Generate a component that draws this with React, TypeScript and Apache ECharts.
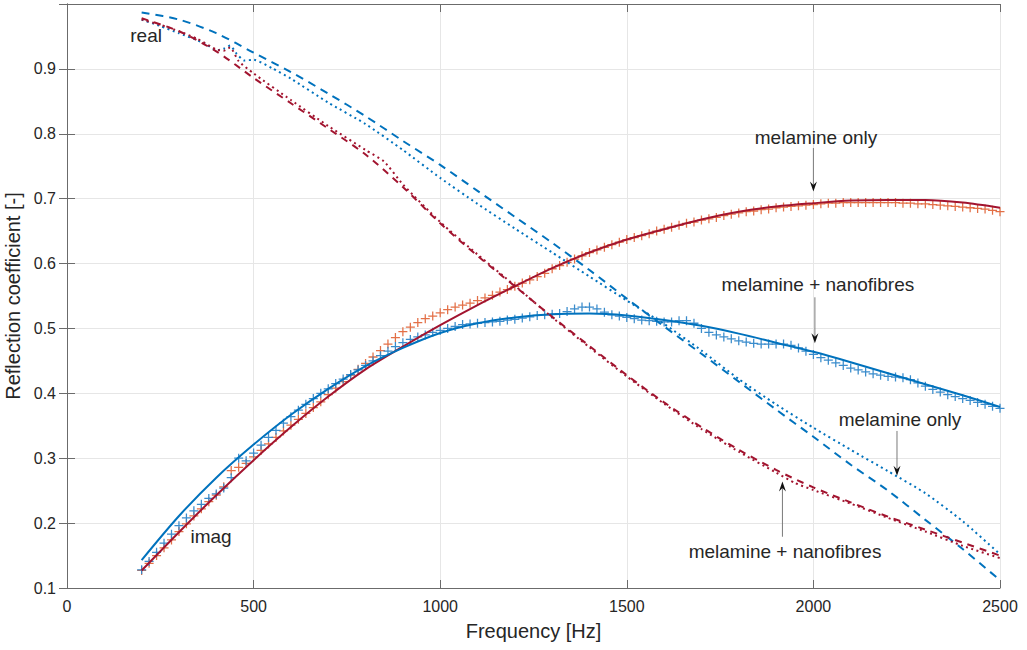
import React, { useEffect, useRef } from "react";
import * as echarts from "echarts";

// ---- data -----------------------------------------------------------------
const FREQ_MODEL = [200, 300, 400, 500, 600, 700, 800, 900, 1000, 1100, 1200, 1300, 1400, 1500, 1600, 1700, 1800, 1900, 2000, 2100, 2200, 2300, 2400, 2500];

// imaginary part, model lines
const IMAG_MODEL_MELAMINE = [0.127, 0.186, 0.243, 0.297, 0.348, 0.395, 0.437, 0.472, 0.505, 0.536, 0.565, 0.593, 0.617, 0.637, 0.653, 0.668, 0.680, 0.688, 0.693, 0.697, 0.698, 0.698, 0.694, 0.686];
const IMAG_MODEL_NANO = [0.143, 0.211, 0.270, 0.321, 0.367, 0.407, 0.442, 0.470, 0.493, 0.508, 0.517, 0.522, 0.523, 0.520, 0.513, 0.504, 0.492, 0.478, 0.464, 0.448, 0.431, 0.414, 0.397, 0.379];

// real part, model lines (dashed)
const REAL_MODEL_MELAMINE = [0.987, 0.976, 0.955, 0.925, 0.895, 0.862, 0.827, 0.789, 0.752, 0.712, 0.672, 0.632, 0.590, 0.546, 0.503, 0.461, 0.418, 0.375, 0.333, 0.290, 0.250, 0.205, 0.160, 0.112];
const REAL_MODEL_NANO = [0.978, 0.958, 0.927, 0.886, 0.847, 0.808, 0.768, 0.718, 0.662, 0.612, 0.565, 0.518, 0.473, 0.428, 0.386, 0.348, 0.313, 0.282, 0.255, 0.232, 0.210, 0.190, 0.170, 0.150];

// real part, measured (dotted)
const REAL_MEAS_MELAMINE_FREQ = [200, 250, 300, 350, 375, 400, 420, 437, 455, 475, 500, 550, 600, 700, 800, 900, 1000, 1100, 1200, 1300, 1400, 1500, 1600, 1700, 1800, 1900, 2000, 2100, 2200, 2300, 2400, 2500];
const REAL_MEAS_MELAMINE = [0.976, 0.966, 0.955, 0.944, 0.937, 0.929, 0.931, 0.936, 0.923, 0.913, 0.914, 0.901, 0.885, 0.848, 0.815, 0.775, 0.732, 0.692, 0.654, 0.617, 0.580, 0.543, 0.507, 0.466, 0.422, 0.383, 0.347, 0.313, 0.280, 0.246, 0.203, 0.152];
const REAL_MEAS_NANO_FREQ = [200, 250, 300, 350, 400, 420, 437, 460, 500, 600, 700, 800, 850, 900, 1000, 1100, 1200, 1300, 1400, 1500, 1600, 1700, 1800, 1900, 1950, 2000, 2100, 2200, 2300, 2400, 2500];
const REAL_MEAS_NANO = [0.976, 0.968, 0.958, 0.946, 0.930, 0.928, 0.933, 0.912, 0.893, 0.852, 0.812, 0.775, 0.757, 0.722, 0.664, 0.614, 0.566, 0.517, 0.471, 0.426, 0.384, 0.345, 0.310, 0.278, 0.262, 0.251, 0.230, 0.208, 0.187, 0.165, 0.146];

// imaginary part, measured (+ markers)
const MEAS_FREQ = [
  200, 220, 240, 260, 280, 300, 320, 340, 360, 380,
  400, 420, 440, 460, 480, 500, 520, 540, 560, 580,
  600, 620, 640, 660, 680, 700, 720, 740, 760, 780,
  800, 820, 840, 860, 880, 900, 920, 940, 960, 980,
  1000, 1020, 1040, 1060, 1080, 1100, 1120, 1140, 1160, 1180,
  1200, 1220, 1240, 1260, 1280, 1300, 1320, 1340, 1360, 1380,
  1400, 1420, 1440, 1460, 1480, 1500, 1520, 1540, 1560, 1580,
  1600, 1620, 1640, 1660, 1680, 1700, 1720, 1740, 1760, 1780,
  1800, 1820, 1840, 1860, 1880, 1900, 1920, 1940, 1960, 1980,
  2000, 2020, 2040, 2060, 2080, 2100, 2120, 2140, 2160, 2180,
  2200, 2220, 2240, 2260, 2280, 2300, 2320, 2340, 2360, 2380,
  2400, 2420, 2440, 2460, 2480, 2500,
];
const IMAG_MEAS_MELAMINE = [
  0.127, 0.138, 0.150, 0.162, 0.174, 0.187, 0.199, 0.211, 0.222, 0.233,
  0.243, 0.256, 0.281, 0.286, 0.292, 0.302, 0.312, 0.322, 0.332, 0.342,
  0.351, 0.360, 0.369, 0.378, 0.387, 0.398, 0.408, 0.418, 0.428, 0.437,
  0.446, 0.456, 0.466, 0.476, 0.486, 0.495, 0.502, 0.509, 0.515, 0.519,
  0.524, 0.529, 0.533, 0.536, 0.539, 0.543, 0.547, 0.551, 0.556, 0.560,
  0.565, 0.570, 0.575, 0.580, 0.585, 0.592, 0.597, 0.602, 0.607, 0.612,
  0.617, 0.621, 0.625, 0.629, 0.633, 0.637, 0.640, 0.643, 0.646, 0.650,
  0.653, 0.656, 0.659, 0.662, 0.664, 0.667, 0.669, 0.671, 0.674, 0.676,
  0.678, 0.680, 0.681, 0.683, 0.684, 0.686, 0.687, 0.688, 0.689, 0.690,
  0.691, 0.692, 0.693, 0.693, 0.694, 0.694, 0.694, 0.694, 0.694, 0.694,
  0.694, 0.694, 0.693, 0.693, 0.692, 0.692, 0.691, 0.690, 0.689, 0.688,
  0.687, 0.686, 0.685, 0.684, 0.682, 0.680,
];
const IMAG_MEAS_NANO = [
  0.128, 0.141, 0.155, 0.169, 0.183, 0.196, 0.208, 0.219, 0.229, 0.238,
  0.245, 0.254, 0.270, 0.300, 0.296, 0.308, 0.320, 0.332, 0.343, 0.354,
  0.364, 0.374, 0.383, 0.392, 0.400, 0.407, 0.415, 0.422, 0.429, 0.436,
  0.443, 0.450, 0.458, 0.465, 0.472, 0.478, 0.483, 0.487, 0.490, 0.494,
  0.497, 0.500, 0.503, 0.506, 0.507, 0.508, 0.509, 0.510, 0.511, 0.513,
  0.514, 0.516, 0.518, 0.520, 0.521, 0.522, 0.523, 0.526, 0.530, 0.533,
  0.533, 0.530, 0.525, 0.521, 0.519, 0.517, 0.515, 0.513, 0.512, 0.511,
  0.510, 0.510, 0.512, 0.512, 0.508, 0.500, 0.494, 0.490, 0.487, 0.484,
  0.481, 0.479, 0.477, 0.476, 0.476, 0.476, 0.476, 0.474, 0.470, 0.465,
  0.460, 0.455, 0.451, 0.447, 0.443, 0.439, 0.436, 0.433, 0.430, 0.428,
  0.426, 0.425, 0.424, 0.421, 0.416, 0.411, 0.406, 0.402, 0.398, 0.395,
  0.392, 0.389, 0.386, 0.383, 0.380, 0.377,
];

// annotations (data coordinates)
const LABELS = [
  { text: "real", at: [212, 0.952] },
  { text: "imag", at: [386, 0.180] },
  { text: "melamine only", at: [2007, 0.795] },
  { text: "melamine + nanofibres", at: [2012, 0.567] },
  { text: "melamine only", at: [2232, 0.359] },
  { text: "melamine + nanofibres", at: [1924, 0.157] },
];
const ARROWS = [
  { from: [2000, 0.778], to: [2000, 0.711] },
  { from: [2004, 0.548], to: [2004, 0.477] },
  { from: [2224, 0.342], to: [2224, 0.273] },
  { from: [1917, 0.179], to: [1917, 0.264] },
];

// ---- styling ----------------------------------------------------------------
const BLUE = "#0072BD";
const RED = "#A2142F";
const ORANGE = "#E2683D";
const FONT = "Liberation Sans, Arial, Helvetica, sans-serif";
const AXIS_COLOR = "#6b6b6b";
const TEXT_COLOR = "#262626";
const PLUS = "path://M4.3,0H5.7V4.3H10V5.7H5.7V10H4.3V5.7H0V4.3H4.3Z";

const zip = (xs: number[], ys: number[]) => xs.map((x, i) => [x, ys[i]]);

export default function App() {
  const ref = useRef<HTMLDivElement>(null);

  useEffect(() => {
    if (!ref.current) return;
    const chart = echarts.init(ref.current, null, { renderer: "svg" });

    const commonX = { type: "value", min: 0, max: 2500, interval: 500 };
    const commonY = { type: "value", min: 0.1, max: 1.0, interval: 0.1 };
    const line = { show: true, lineStyle: { color: AXIS_COLOR, width: 1 } };
    const tick = { show: true, inside: true, length: 8, lineStyle: { color: AXIS_COLOR, width: 1 } };

    const option: any = {
      animation: false,
      backgroundColor: "#ffffff",
      textStyle: { fontFamily: FONT },
      grid: { left: 67, right: 27, top: 4, bottom: 62, containLabel: false, outerBoundsMode: "none" },
      xAxis: [
        {
          ...commonX,
          position: "bottom",
          axisLine: line,
          axisTick: tick,
          axisLabel: {
            fontSize: 16,
            color: TEXT_COLOR,
            margin: 10,
            fontFamily: FONT,
            formatter: (v: number) => String(Math.round(v)),
          },
          splitLine: { show: true, lineStyle: { color: "#e6e6e6", width: 1 } },
          name: "Frequency [Hz]",
          nameLocation: "middle",
          nameGap: 33,
          nameTextStyle: { fontSize: 20, color: TEXT_COLOR, fontFamily: FONT },
        },
        {
          ...commonX,
          position: "top",
          axisLine: line,
          axisTick: tick,
          axisLabel: { show: false },
          splitLine: { show: false },
        },
      ],
      yAxis: [
        {
          ...commonY,
          position: "left",
          axisLine: line,
          axisTick: tick,
          axisLabel: {
            fontSize: 16,
            color: TEXT_COLOR,
            margin: 11,
            fontFamily: FONT,
            formatter: (v: number) => (v > 0.999 ? "" : v.toFixed(1)),
          },
          splitLine: { show: true, lineStyle: { color: "#e6e6e6", width: 1 } },
          name: "Reflection coefficient [-]",
          nameLocation: "middle",
          nameGap: 37,
          nameTextStyle: { fontSize: 20, color: TEXT_COLOR, fontFamily: FONT },
        },
        {
          ...commonY,
          position: "right",
          axisLine: line,
          axisTick: tick,
          axisLabel: { show: false },
          splitLine: { show: false },
        },
      ],
      series: [
        {
          name: "imag meas melamine",
          type: "scatter",
          data: zip(MEAS_FREQ, IMAG_MEAS_MELAMINE),
          symbol: PLUS,
          symbolSize: 9,
          itemStyle: { color: ORANGE, opacity: 0.95 },
          silent: true,
          z: 2,
        },
        {
          name: "imag meas nano",
          type: "scatter",
          data: zip(MEAS_FREQ, IMAG_MEAS_NANO),
          symbol: PLUS,
          symbolSize: 9,
          itemStyle: { color: "#2f86c9", opacity: 0.95 },
          silent: true,
          z: 3,
        },
        {
          name: "imag model melamine",
          type: "line",
          data: zip(FREQ_MODEL, IMAG_MODEL_MELAMINE),
          showSymbol: false,
          smooth: 0.3,
          lineStyle: { color: RED, width: 2 },
          z: 4,
        },
        {
          name: "imag model nano",
          type: "line",
          data: zip(FREQ_MODEL, IMAG_MODEL_NANO),
          showSymbol: false,
          smooth: 0.3,
          lineStyle: { color: BLUE, width: 2 },
          z: 4,
        },
        {
          name: "real model melamine",
          type: "line",
          data: zip(FREQ_MODEL, REAL_MODEL_MELAMINE),
          showSymbol: false,
          smooth: 0.3,
          lineStyle: { color: BLUE, width: 2, type: [8, 6] },
          z: 4,
        },
        {
          name: "real meas melamine",
          type: "line",
          data: zip(REAL_MEAS_MELAMINE_FREQ, REAL_MEAS_MELAMINE),
          showSymbol: false,
          smooth: 0.2,
          lineStyle: { color: BLUE, width: 2, type: [2, 3.5] },
          z: 4,
        },
        {
          name: "real model nano",
          type: "line",
          data: zip(FREQ_MODEL, REAL_MODEL_NANO),
          showSymbol: false,
          smooth: 0.3,
          lineStyle: { color: RED, width: 2, type: [7, 6] },
          z: 4,
        },
        {
          name: "real meas nano",
          type: "line",
          data: zip(REAL_MEAS_NANO_FREQ, REAL_MEAS_NANO),
          showSymbol: false,
          smooth: 0.2,
          lineStyle: { color: RED, width: 2, type: [2, 3.5] },
          z: 4,
        },
      ],
    };

    chart.setOption(option);

    const px = (p: number[]) => chart.convertToPixel({ seriesIndex: 2 }, p) as number[];
    const graphics: any[] = [];
    LABELS.forEach((l) => {
      const [x, y] = px(l.at);
      graphics.push({
        type: "text",
        x,
        y,
        z: 100,
        style: {
          text: l.text,
          fill: TEXT_COLOR,
          font: `19px ${FONT}`,
          textAlign: "center",
          textVerticalAlign: "middle",
        },
      });
    });
    ARROWS.forEach((a) => {
      const [x1, y1] = px(a.from);
      const [x2, y2] = px(a.to);
      const dir = y2 > y1 ? 1 : -1;
      const len = 10;
      const half = 3.5;
      graphics.push({
        type: "line",
        z: 100,
        shape: { x1, y1, x2, y2: y2 - dir * len * 0.6 },
        style: { stroke: "#7a7a7a", lineWidth: 1 },
      });
      graphics.push({
        type: "polygon",
        z: 101,
        shape: {
          points: [
            [x2, y2],
            [x2 - half, y2 - dir * len],
            [x2, y2 - dir * len * 0.65],
            [x2 + half, y2 - dir * len],
          ],
        },
        style: { fill: "#111111" },
      });
    });
    chart.setOption({ graphic: graphics });

    return () => chart.dispose();
  }, []);

  return (
    <div
      ref={ref}
      style={{ position: "fixed", left: 0, top: 0, width: 1027, height: 650, background: "#fff" }}
    />
  );
}
